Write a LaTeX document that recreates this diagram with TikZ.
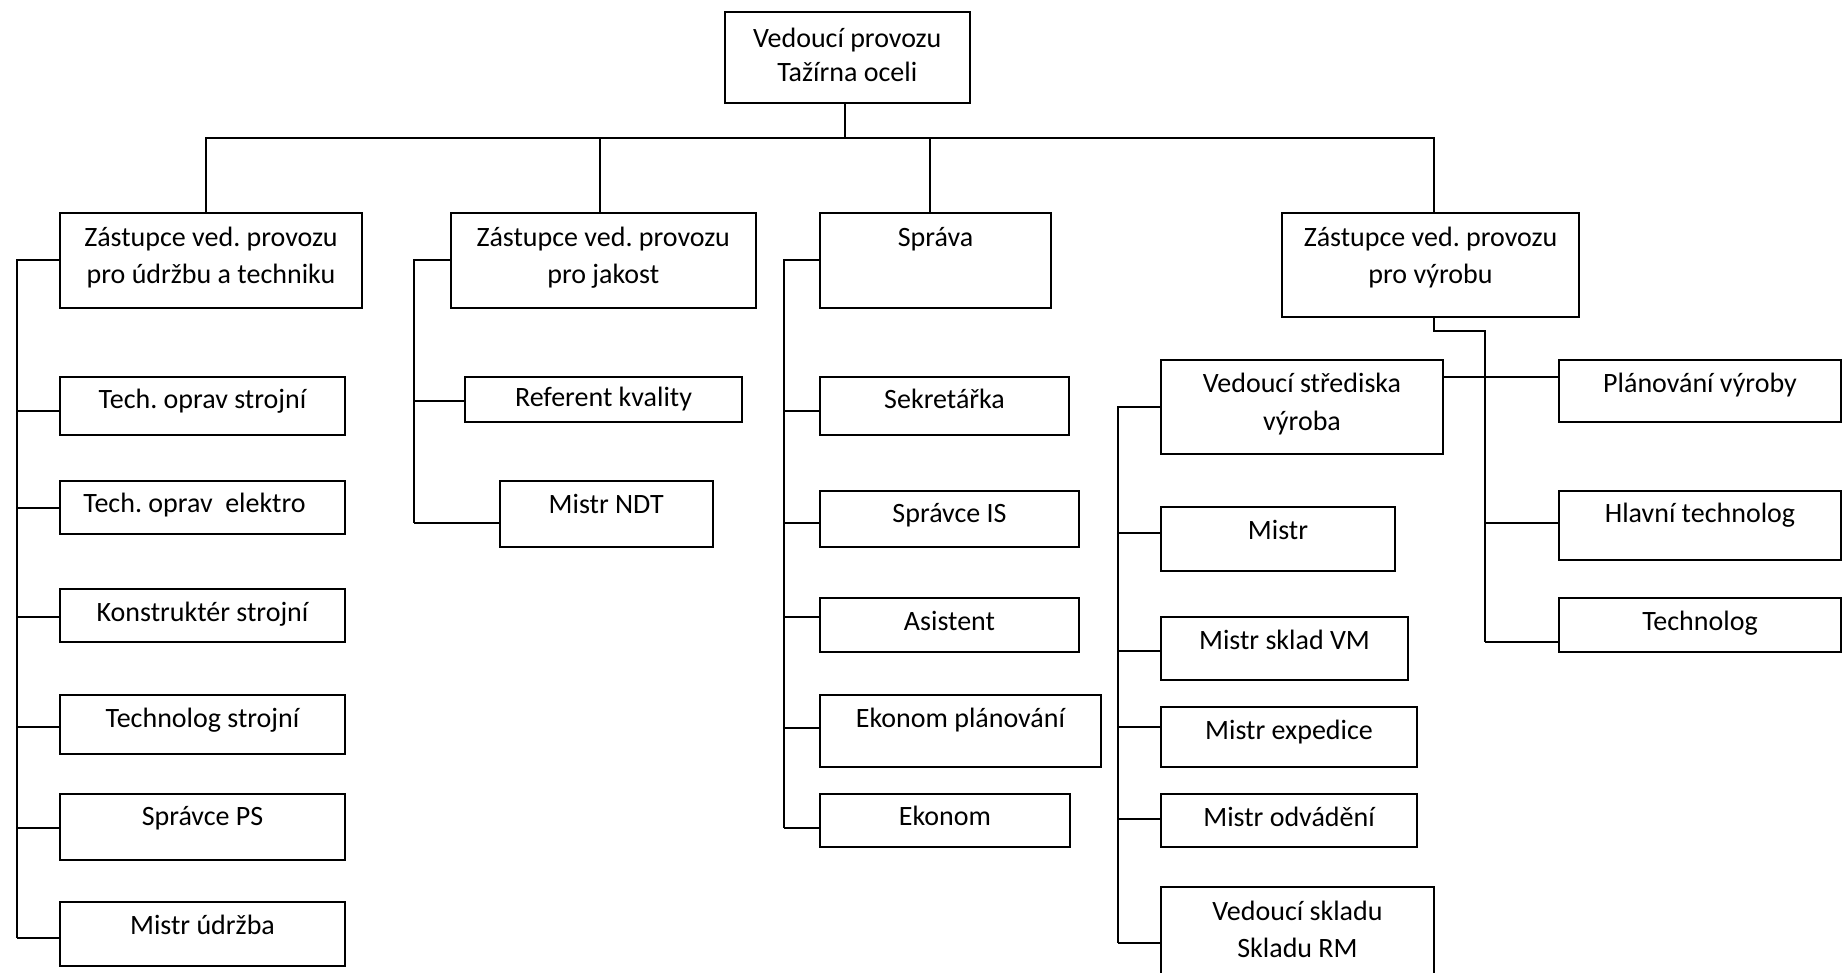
\documentclass[tikz,border=0pt]{standalone}
\usepackage{fontspec}
\setmainfont{Carlito}
\frenchspacing
\newcommand\mybox[5]{\node[box, minimum width={(#4-#2)*0.5pt}, minimum height={(#5-#3)*0.5pt}] (#1) at (#2,#3) {};}
\newcommand\hook[3]{\draw[conn] ([yshift=#2]#1.west) -- ++(-#3,0);}
\begin{document}
\frenchspacing
\begin{tikzpicture}[x=0.5pt,y=-0.5pt,
  box/.style={draw=black, line width=1pt, inner sep=0pt, anchor=north west, fill=white},
  lbl/.style={font=\fontsize{14}{17}\selectfont, inner sep=0pt, anchor=base, text=black},
  conn/.style={draw=black, line width=1pt}]
\useasboundingbox[fill=white] (0,0) rectangle (1843,973);

% ---- boxes ----
\mybox{top}{724}{11}{968.5}{102}
\mybox{A}{59}{212}{361}{307}
\mybox{B}{450}{212}{754.5}{307}
\mybox{C}{819}{212}{1050}{307}
\mybox{D}{1281}{212}{1578}{316}

\mybox{a1}{59}{376}{344}{434}
\mybox{a2}{59}{480}{344}{533}
\mybox{a3}{59}{588}{344}{641}
\mybox{a4}{59}{694}{344}{753}
\mybox{a5}{59}{793}{344}{859}
\mybox{a6}{59}{901}{344}{965}

\mybox{b1}{464}{376}{741}{421}
\mybox{b2}{499}{480}{711.5}{546}

\mybox{c1}{819}{376}{1068}{434}
\mybox{c2}{819}{490}{1078}{546}
\mybox{c3}{819}{597}{1078}{651}
\mybox{c4}{819}{694}{1100}{766}
\mybox{c5}{819}{793}{1069}{846}

\mybox{V}{1160}{359}{1442}{453}
\mybox{p1}{1558}{359}{1840}{421}
\mybox{p2}{1558}{490}{1840}{559}
\mybox{p3}{1558}{597}{1840}{651}

\mybox{v1}{1160}{506}{1394}{570}
\mybox{v2}{1160}{616}{1407}{679}
\mybox{v3}{1160}{706}{1416}{766}
\mybox{v4}{1160}{793}{1416}{846}
\mybox{v5}{1160}{886}{1433}{1010}

% ---- texts ----
\node[lbl] (top-1) at ([yshift=-18.3pt]top.north) {Vedoucí provozu};
\node[lbl] (top-2) at ([yshift=-35.3pt]top.north) {Tažírna oceli};
\node[lbl] (A-1) at ([yshift=-17.4pt]A.north) {Zástupce ved. provozu};
\node[lbl] (A-2) at ([yshift=-36pt]A.north) {pro údržbu a techniku};
\node[lbl] (B-1) at ([yshift=-17.4pt]B.north) {Zástupce ved. provozu};
\node[lbl] (B-2) at ([yshift=-36pt]B.north) {pro jakost};
\node[lbl] (C-1) at ([yshift=-17.4pt]C.north) {Správa};
\node[lbl] (D-1) at ([yshift=-17.4pt]D.north) {Zástupce ved. provozu};
\node[lbl] (D-2) at ([yshift=-36pt]D.north) {pro výrobu};

\node[lbl] (a1-1) at ([yshift=-16.3pt]a1.north) {Tech. oprav strojní};
\node[lbl] (a2-1) at ([yshift=-16.3pt,xshift=-4pt]a2.north) {Tech. oprav\ \ elektro};
\node[lbl] (a3-1) at ([yshift=-16.6pt]a3.north) {Konstruktér strojní};
\node[lbl] (a4-1) at ([yshift=-16.6pt]a4.north) {Technolog strojní};
\node[lbl] (a5-1) at ([yshift=-16.3pt]a5.north) {Správce PS};
\node[lbl] (a6-1) at ([yshift=-16.6pt]a6.north) {Mistr údržba};

\begin{scope}
\clip ([yshift=5.5pt]b1.south west) rectangle (b1.north east);
\node[lbl] (b1-1) at ([yshift=-15.5pt]b1.north) {Referent kvality};
\end{scope}
\node[lbl] (b2-1) at ([yshift=-16.5pt]b2.north) {Mistr NDT};

\node[lbl] (c1-1) at ([yshift=-16.2pt]c1.north) {Sekretářka};
\node[lbl] (c2-1) at ([yshift=-16pt]c2.north) {Správce IS};
\node[lbl] (c3-1) at ([yshift=-16.5pt]c3.north) {Asistent};
\node[lbl] (c4-1) at ([yshift=-16.5pt]c4.north) {Ekonom plánování};
\node[lbl] (c5-1) at ([yshift=-16.3pt]c5.north) {Ekonom};

\node[lbl] (V-1) at ([yshift=-17pt]V.north) {Vedoucí střediska};
\node[lbl] (V-2) at ([yshift=-35.5pt]V.north) {výroba};
\node[lbl] (p1-1) at ([yshift=-17pt]p1.north) {Plánování výroby};
\node[lbl] (p2-1) at ([yshift=-16pt]p2.north) {Hlavní technolog};
\node[lbl] (p3-1) at ([yshift=-16.5pt]p3.north) {Technolog};

\node[lbl] (v1-1) at ([yshift=-16.5pt]v1.north) {Mistr};
\node[lbl] (v2-1) at ([yshift=-16.5pt]v2.north) {Mistr sklad VM};
\node[lbl] (v3-1) at ([yshift=-16.5pt]v3.north) {Mistr expedice};
\node[lbl] (v4-1) at ([yshift=-16.5pt]v4.north) {Mistr odvádění};
\node[lbl] (v5-1) at ([yshift=-17pt]v5.north) {Vedoucí skladu};
\node[lbl] (v5-2) at ([yshift=-35.5pt]v5.north) {Skladu RM};

% ---- connectors ----
\draw[conn] ([xshift=-1.25pt]top.south) -- ++(0,34) coordinate (bus);
\draw[conn] ([xshift=-2.5pt]A.north) |- (bus) -| ([xshift=1.75pt]D.north);
\draw[conn] ([xshift=-1.5pt]B.north) -- ([xshift=-1.5pt]B.north |- bus);
\draw[conn] ([xshift=-2.75pt]C.north) -- ([xshift=-2.75pt]C.north |- bus);

% left branch
\draw[conn] (A.west) -| ([yshift=-2pt,xshift=-21pt]a6.west);
\hook{a1}{-2.5pt}{42}
\hook{a2}{0pt}{42}
\hook{a3}{-0.75pt}{42}
\hook{a4}{-1.25pt}{42}
\hook{a5}{-0.5pt}{42}
\hook{a6}{-2pt}{42}

% quality branch
\draw[conn] (B.west) -| ([yshift=-4.5pt,xshift=-42.5pt]b2.west);
\hook{b1}{-0.75pt}{50}
\hook{b2}{-4.5pt}{85}

% administration branch
\draw[conn] (C.west) -| ([yshift=-3.75pt,xshift=-17.5pt]c5.west);
\hook{c1}{-2.5pt}{35}
\hook{c2}{-2pt}{35}
\hook{c3}{4pt}{35}
\hook{c4}{1.5pt}{35}
\hook{c5}{-3.75pt}{35}

% production branch
\draw[conn] ([xshift=1.75pt]D.south) -- ++(0,13) -| ([yshift=-8.5pt,xshift=-36.5pt]p3.west);
\hook{p2}{1.25pt}{73}
\hook{p3}{-8.5pt}{73}
\draw[conn] ([yshift=15pt]V.east) -- ([yshift=7pt]p1.west);

\draw[conn] (V.west) -| ([yshift=3pt,xshift=-21pt]v5.west);
\hook{v1}{3pt}{42}
\hook{v2}{-1.25pt}{42}
\hook{v3}{5pt}{42}
\hook{v4}{0.75pt}{42}
\hook{v5}{3pt}{42}
\end{tikzpicture}
\end{document}
